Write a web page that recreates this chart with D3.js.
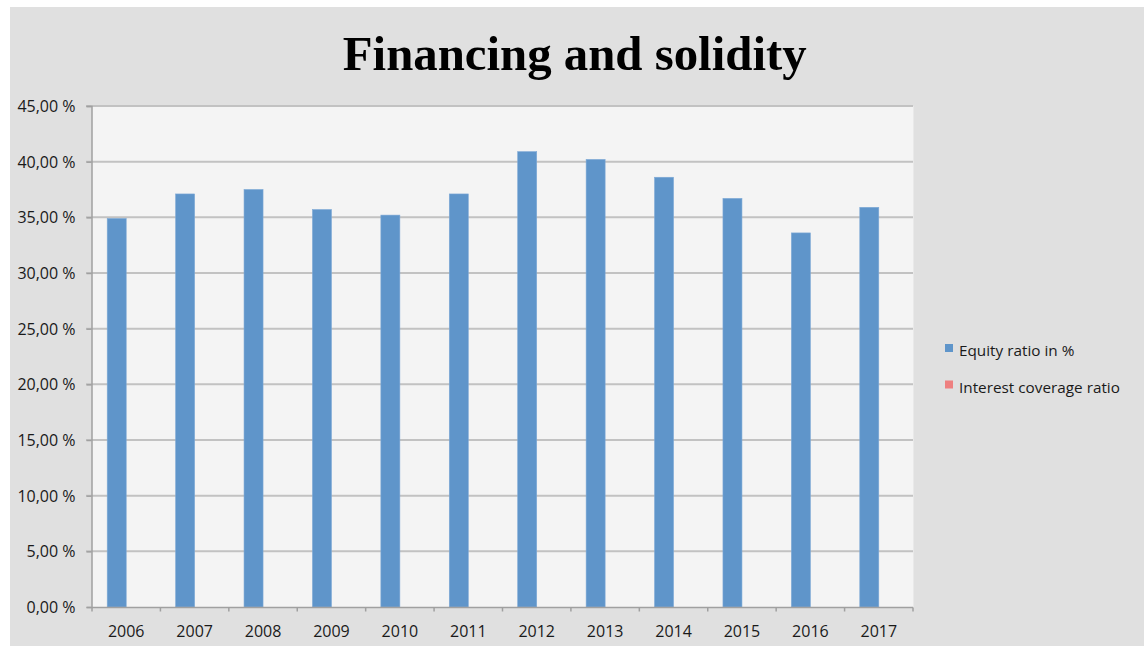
<!DOCTYPE html>
<html><head><meta charset="utf-8">
<script src="https://cdn.jsdelivr.net/npm/d3@7"></script>
<style>html,body{margin:0;padding:0;background:#fff;}svg{display:block;}</style>
</head><body>
<svg id="c" width="1144" height="646"></svg>
<script>
const years = ["2006","2007","2008","2009","2010","2011","2012","2013","2014","2015","2016","2017"];
const equityRatio = [34.9, 37.1, 37.5, 35.7, 35.2, 37.1, 40.9, 40.2, 38.6, 36.7, 33.6, 35.9];
const interestCoverage = [0,0,0,0,0,0,0,0,0,0,0,0];
const seriesNames = ["Equity ratio in %", "Interest coverage ratio"];
const seriesColors = ["#5f95ca", "#ee8080"];
const yTicks = [0,5,10,15,20,25,30,35,40,45];
const title = "Financing and solidity";

const svg = d3.select("#c");
svg.append("rect").attr("x",10).attr("y",7).attr("width",1134).attr("height",639).attr("fill","#e0e0e0");

const L=92, R=913, T=106, B=607;
const x = d3.scaleBand().domain(years).range([L,R]).paddingInner(0).paddingOuter(0);
const xs = d3.scaleBand().domain(seriesNames).range([0,x.bandwidth()]).paddingInner(0).paddingOuter(0.8);
const y = d3.scaleLinear().domain([0,45]).range([B,T]);

svg.append("rect").attr("x",L).attr("y",T).attr("width",R-L).attr("height",B-T).attr("fill","#f4f4f4");
svg.append("line").attr("x1",R+0.5).attr("x2",R+0.5).attr("y1",T).attr("y2",B).attr("stroke","#e9e9e9");

// gridlines
svg.append("g").selectAll("line").data(yTicks.filter(d=>d>0)).join("line")
  .attr("x1",86).attr("x2",R).attr("y1",d=>y(d)).attr("y2",d=>y(d))
  .attr("stroke","#c2c2c2").attr("stroke-width",2);

// bars
const data = years.map((yr,i)=>({year:yr, vals:[equityRatio[i], interestCoverage[i]]}));
const g = svg.append("g");
data.forEach(d=>{
  d.vals.forEach((v,j)=>{
    if(v<=0) return;
    g.append("rect").attr("x",x(d.year)+xs(seriesNames[j])).attr("y",y(v))
      .attr("width",xs.bandwidth()).attr("height",y(0)-y(v))
      .attr("fill",seriesColors[j]).attr("stroke","#7ea9d6").attr("stroke-width",0.6);
  });
});

// y axis
const fmt = v => v.toFixed(2).replace(".",",")+" %";
const ya = d3.axisLeft(y).tickValues(yTicks).tickFormat(fmt).tickSize(5).tickPadding(11);
const yg = svg.append("g").attr("transform",`translate(${L-0.5},0)`).call(ya);
yg.select(".domain").attr("stroke","#a0a0a0").attr("stroke-width",1.5);
yg.selectAll(".tick line").attr("stroke","#a0a0a0").attr("stroke-width",1.5);
yg.selectAll("text").attr("font-family","'Open Sans', sans-serif").attr("font-size",16).attr("fill","#1a1a1a").attr("dy","0.35em");

// x axis
const xg = svg.append("g").attr("transform",`translate(0,${B+0.5})`);
xg.append("line").attr("x1",L).attr("x2",R).attr("stroke","#a0a0a0").attr("stroke-width",1.5);
const bounds = years.map(d=>x(d)).concat([R]);
xg.selectAll("line.t").data(bounds).join("line").attr("class","t")
  .attr("x1",d=>d).attr("x2",d=>d).attr("y1",0).attr("y2",4).attr("stroke","#a0a0a0").attr("stroke-width",1.5);
xg.selectAll("text").data(years).join("text")
  .attr("x",d=>x(d)+x.bandwidth()/2).attr("y",29).attr("text-anchor","middle")
  .attr("font-family","'Open Sans', sans-serif").attr("font-size",16).attr("fill","#1a1a1a").text(d=>d);

// title
const tt = svg.append("text").attr("x",574.7).attr("y",70).attr("text-anchor","middle")
  .attr("font-family","'Liberation Serif', 'Times New Roman', serif").attr("font-weight","bold")
  .attr("font-size",50).attr("fill","#000").text(title);
const w = tt.node().getComputedTextLength();
tt.attr("font-size",50*464/w);

// legend
const lg = svg.append("g");
seriesNames.forEach((n,i)=>{
  const yy = 344 + i*36.5;
  lg.append("rect").attr("x",945).attr("y",yy).attr("width",8).attr("height",8).attr("fill",seriesColors[i]);
  lg.append("text").attr("x",959).attr("y",yy+12).attr("font-family","'Open Sans', sans-serif")
    .attr("font-size",15.3).attr("fill","#1a1a1a").text(n);
});
</script>
</body></html>
